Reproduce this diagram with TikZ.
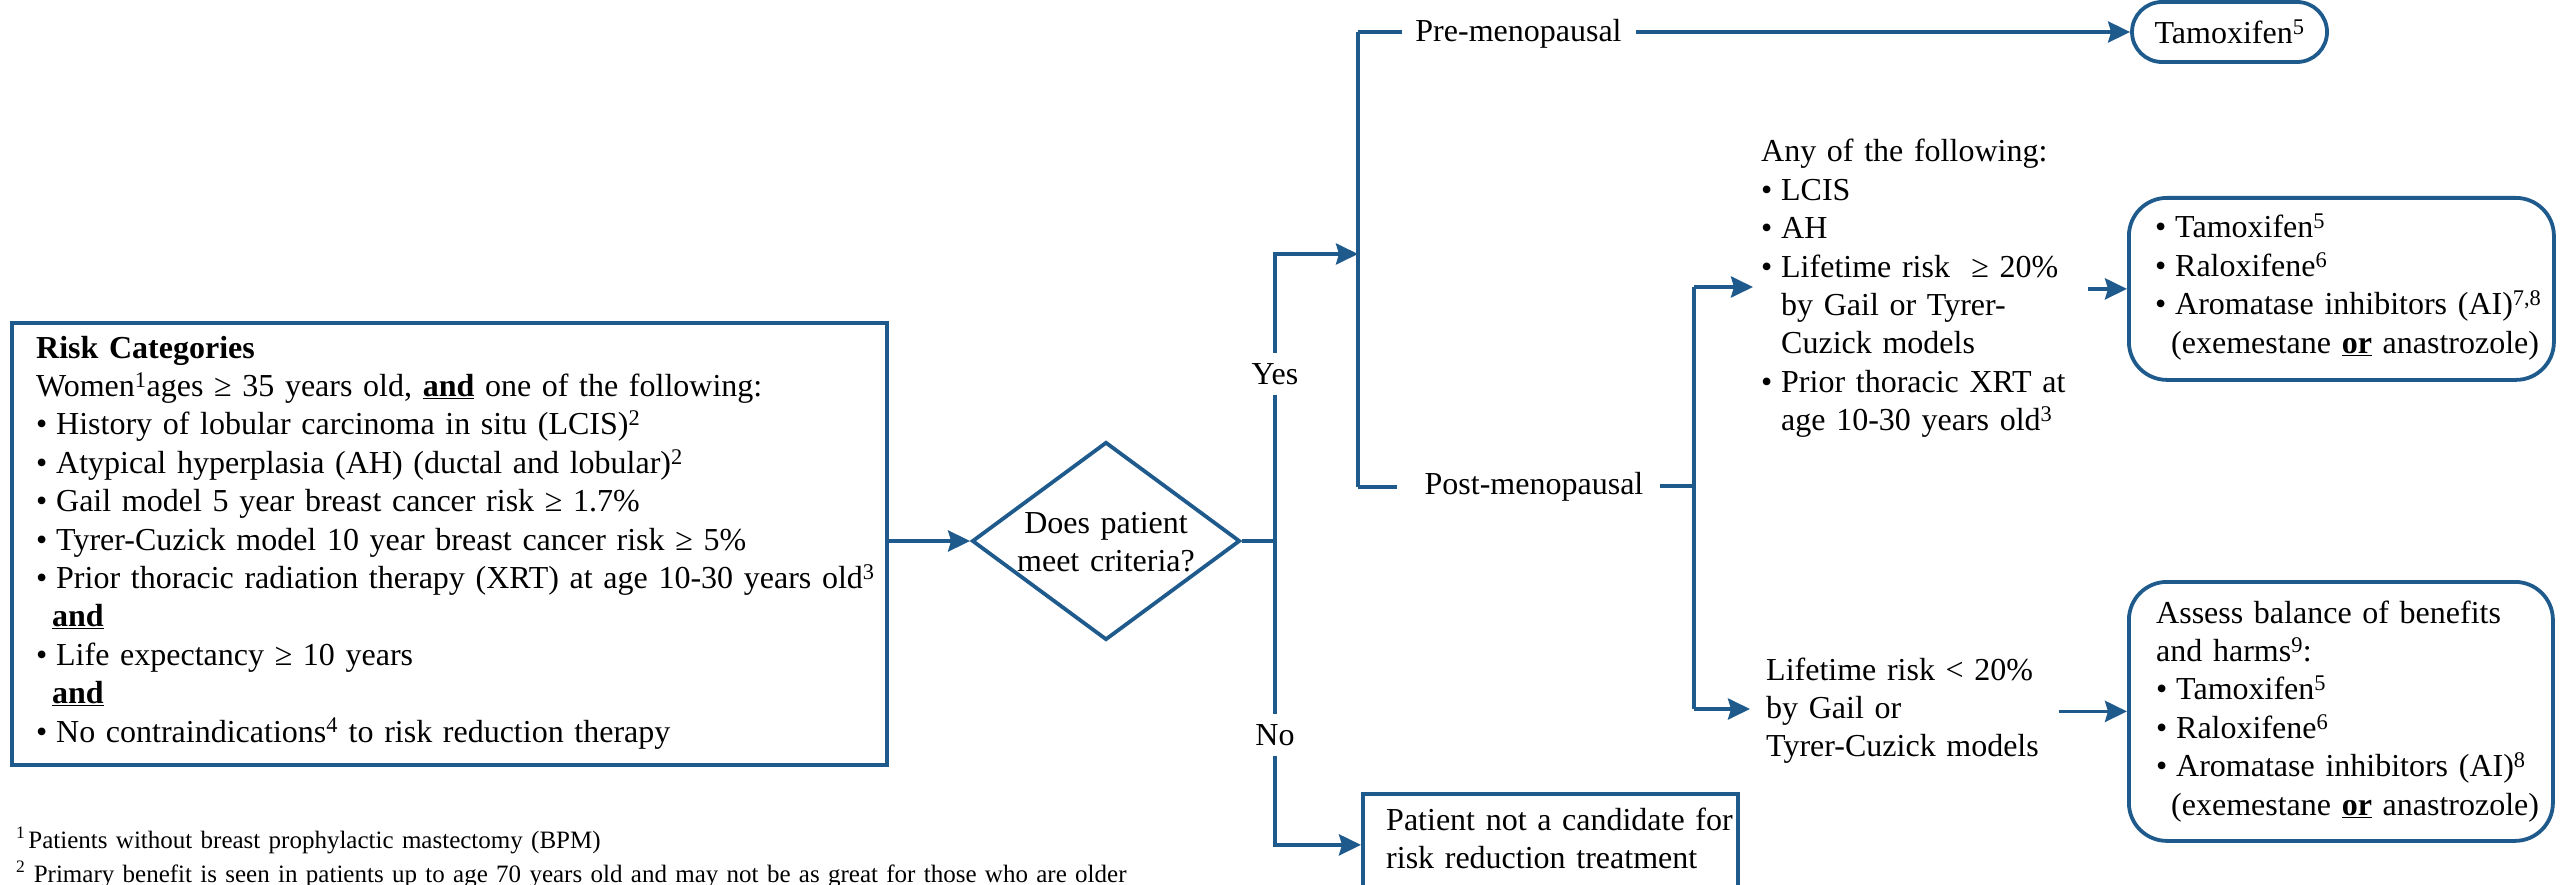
\documentclass[tikz,border=0pt]{standalone}
\usepackage{fontspec}
\setmainfont{Liberation Serif}
\usetikzlibrary{arrows.meta,shapes.geometric}
\definecolor{flow}{RGB}{31,90,140}
\newcommand{\bulitem}{\makebox[20pt][l]{\textbullet}}
\newcommand{\contind}{\hspace*{20pt}}
\begin{document}
\begin{tikzpicture}[x=1pt,y=-1pt,
  every node/.style={font=\fontsize{32}{38.4}\selectfont, text=black},
  ln/.style={draw=flow, line width=3.8pt},
  arr/.style={ln, -{Stealth[length=22pt,width=21pt,inset=3pt]}},
  sqbox/.style={draw=flow, line width=3.8pt, rectangle, inner sep=0pt},
  rbox/.style={draw=flow, line width=3.8pt, rectangle, rounded corners=38pt, inner sep=0pt},
  txt/.style={align=left, inner sep=0pt, anchor=base west},
  lbl/.style={inner sep=10pt, anchor=base}]
\useasboundingbox (0,0) rectangle (2572,885);
\clip (0,0) rectangle (2572,885);

% ---- risk categories box
\node[sqbox, anchor=north west, minimum width=875pt, minimum height=442pt] (risk) at (10,321) {};
\node[txt, text width=840pt] (risktxt) at (36,358) {\textbf{Risk Categories}\\
Women\textsuperscript{1}ages ≥ 35 years old, \underline{\textbf{and}} one of the following:\\
\bulitem History of lobular carcinoma in situ (LCIS)\textsuperscript{2}\\
\bulitem Atypical hyperplasia (AH) (ductal and lobular)\textsuperscript{2}\\
\bulitem Gail model 5 year breast cancer risk ≥ 1.7\%\\
\bulitem Tyrer-Cuzick model 10 year breast cancer risk ≥ 5\%\\
\bulitem Prior thoracic radiation therapy (XRT) at age 10-30 years old\textsuperscript{3}\\
\hspace*{16pt}\underline{\textbf{and}}\\
\bulitem Life expectancy ≥ 10 years\\
\hspace*{16pt}\underline{\textbf{and}}\\
\bulitem No contraindications\textsuperscript{4} to risk reduction therapy};

% ---- decision
\node[diamond, draw=flow, line width=3.8pt, minimum width=268pt, minimum height=198pt, inner sep=0pt] (dec) at (1106,541) {};
\node[txt, text width=260pt, align=center, anchor=base] (dectxt) at (1106,533) {Does patient\\meet criteria?};
\draw[arr] (risk.east |- dec.west) -- (dec.west);

\coordinate (j) at (1275,541);
\coordinate (yc) at (1275,254);
\coordinate (bt) at (1358,32);
\coordinate (bb) at (1358,487);
\node[lbl] (yes) at (1275,384) {Yes};
\node[lbl] (no) at (1275,745) {No};
\draw[ln] (dec.east) -- (j);
\draw[ln] (yes.south) -- (no.north);
\draw[arr] (yes.north) -- (yc) -- (yc -| bt);
\draw[ln] (bt) -- (bb);

% ---- pre-menopausal
\node[anchor=base, inner sep=0pt] (pre) at (1518.5,42) {Pre-menopausal};
\node[rbox, rounded corners=30pt, minimum width=195pt, minimum height=60pt] (tam) at (2229.5,32) {Tamoxifen\textsuperscript{5}};
\draw[ln] (bt) -- ([xshift=-13pt]pre.west |- bt);
\draw[arr] ([xshift=14pt]pre.east |- bt) -- (tam.west);

% ---- post-menopausal
\node[anchor=base, inner sep=0pt] (post) at (1534,494) {Post-menopausal};
\coordinate (pt) at (1694,287);
\coordinate (pb) at (1694,709);
\coordinate (pm) at (1694,486);
\draw[ln] (bb) -- ([xshift=-27pt]post.west |- bb);
\draw[ln] ([xshift=16pt]post.east |- pm) -- (pm);
\draw[ln] (pt) -- (pb);

\node[txt, text width=319pt, inner xsep=8pt] (any) at (1753,162) {Any of the following:\\
\bulitem LCIS\\
\bulitem AH\\
\bulitem Lifetime risk~ ≥ 20\%\\
\contind by Gail or Tyrer-\\
\contind Cuzick models\\
\bulitem Prior thoracic XRT at\\
\contind age 10-30 years old\textsuperscript{3}};
\draw[arr] (pt) -- (pt -| any.west);

\node[rbox, anchor=north west, minimum width=425pt, minimum height=182pt] (rxa) at (2127,196) {};
\node[txt, text width=390pt] (rxatxt) at (2155,238) {\bulitem Tamoxifen\textsuperscript{5}\\
\bulitem Raloxifene\textsuperscript{6}\\
\bulitem Aromatase inhibitors (AI)\textsuperscript{7,8}\\
\hspace*{16pt}(exemestane \underline{\textbf{or}} anastrozole)};
\draw[arr] (any.east |- rxa.west) -- (rxa.west);

\node[txt, text width=277pt, inner xsep=16pt] (low) at (1750,680) {Lifetime risk < 20\%\\
by Gail or\\
Tyrer-Cuzick models};
\draw[arr] (pb) -- (pb -| low.west);

\node[rbox, anchor=north west, minimum width=424pt, minimum height=259pt] (rxb) at (2127,580) {};
\node[txt, text width=390pt] (rxbtxt) at (2156,623) {Assess balance of benefits\\
and harms\textsuperscript{9}:\\
\bulitem Tamoxifen\textsuperscript{5}\\
\bulitem Raloxifene\textsuperscript{6}\\
\bulitem Aromatase inhibitors (AI)\textsuperscript{8}\\
\hspace*{15pt}(exemestane \underline{\textbf{or}} anastrozole)};
\draw[arr] (low.east |- rxb.west) -- (rxb.west);

% ---- no branch
\node[sqbox, anchor=north west, minimum width=375pt, minimum height=102pt] (pat) at (1361,792) {};
\node[txt, text width=350pt] (pattxt) at (1386,830) {Patient not a candidate for\\
risk reduction treatment};
\draw[arr] (no.south) |- (pat.west);

% ---- footnotes
\node[txt, text width=1200pt, font=\fontsize{25}{34}\selectfont] (fn) at (16,848) {\textsuperscript{1}\hspace{3pt}Patients without breast prophylactic mastectomy (BPM)\\
\textsuperscript{2} Primary benefit is seen in patients up to age 70 years old and may not be as great for those who are older};
\end{tikzpicture}
\end{document}
